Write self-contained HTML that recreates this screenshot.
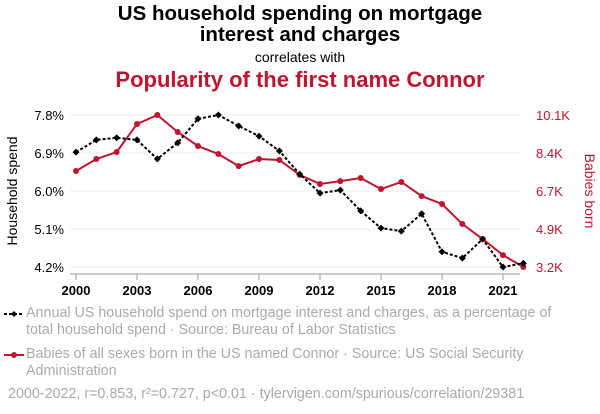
<!DOCTYPE html>
<html><head><meta charset="utf-8"><style>
body{margin:0;background:#fff;font-family:"Liberation Sans",sans-serif;}
#wrap{position:relative;width:600px;height:414px;overflow:hidden;}
.t{position:absolute;left:0;width:600px;text-align:center;}
.leg{position:absolute;left:26px;width:545px;color:#aaa;font-size:14.3px;line-height:17px;}
</style></head><body>
<div id="wrap">
<div class="t" style="top:3px;font-size:20.5px;font-weight:bold;line-height:21px;color:#000">US household spending on mortgage<br>interest and charges</div>
<div class="t" style="top:49px;font-size:14px;color:#000">correlates with</div>
<div class="t" style="top:67px;font-size:22px;font-weight:bold;color:#c0152f">Popularity of the first name Connor</div>
<svg id="chart" width="600" height="414" style="position:absolute;left:0;top:0"></svg>
<div class="leg" style="top:305px">Annual US household spend on mortgage interest and charges, as a percentage of total household spend · Source: Bureau of Labor Statistics</div>
<div class="leg" style="top:346px">Babies of all sexes born in the US named Connor · Source: US Social Security Administration</div>
<div class="leg" style="top:386px;left:8px;width:590px">2000-2022, r=0.853, r²=0.727, p&lt;0.01 · tylervigen.com/spurious/correlation/29381</div>
</div>
<script>
const years=[2000,2001,2002,2003,2004,2005,2006,2007,2008,2009,2010,2011,2012,2013,2014,2015,2016,2017,2018,2019,2020,2021,2022];
const spend=[6.92,7.21,7.26,7.21,6.76,7.14,7.71,7.80,7.54,7.30,6.95,6.40,5.95,6.02,5.53,5.12,5.05,5.46,4.56,4.41,4.86,4.20,4.29];
const babies=[7560,8100,8420,9690,10100,9330,8690,8330,7780,8100,8060,7380,6970,7100,7240,6740,7060,6420,6060,5150,4470,3740,3200];
const xTicks=[2000,2003,2006,2009,2012,2015,2018,2021];
const leftTicks=[4.2,5.1,6.0,6.9,7.8];
const leftLabels=["4.2%","5.1%","6.0%","6.9%","7.8%"];
const rightTicks=[3200,4925,6650,8375,10100];
const rightLabels=["3.2K","4.9K","6.7K","8.4K","10.1K"];
const NS="http://www.w3.org/2000/svg";
const svg=document.getElementById('chart');
const x=v=>76+(v-2000)*(503-76)/21;
const yL=v=>267-(v-4.2)*(152/3.6);
const yR=v=>267-(v-3200)*(152/6900);
function mk(t,a){const e=document.createElementNS(NS,t);for(const k in a)e.setAttribute(k,a[k]);svg.appendChild(e);return e;}
leftTicks.forEach((v,i)=>{
 const g=mk('line',{x1:70,x2:520,y1:yL(v),y2:yL(v),stroke:'#eee','stroke-width':1});
 
 
 const t=mk('text',{x:64,y:yL(v)+5,'text-anchor':'end','font-size':13,fill:'#000'});t.textContent=leftLabels[i];
 
 
});
rightTicks.forEach((v,i)=>{
 const t=mk('text',{x:536,y:yR(v)+5,'font-size':13,fill:'#c0152f'});t.textContent=rightLabels[i];
 
 
});
const ax=mk('line',{x1:70,x2:520,y1:274,y2:274,stroke:'#999'});


xTicks.forEach(v=>{
 const l=mk('line',{x1:x(v),x2:x(v),y1:274,y2:280,stroke:'#999'});
 
 
 const t=mk('text',{x:x(v),y:295,'text-anchor':'middle','font-size':13,'font-weight':'bold',fill:'#000'});t.textContent=v;
 
 
});
const yt=mk('text',{transform:'translate(17,191) rotate(-90)','text-anchor':'middle','font-size':14,fill:'#000'});yt.textContent='Household spend';


const yt2=mk('text',{transform:'translate(585,191) rotate(90)','text-anchor':'middle','font-size':14,fill:'#c0152f'});yt2.textContent='Babies born';


const pr=mk('polyline',{points:years.map((y,i)=>x(y)+','+yR(babies[i])).join(' '),fill:'none',stroke:'#c0152f','stroke-width':2});


years.forEach((y,i)=>{const c=mk('circle',{cx:x(y),cy:yR(babies[i]),r:3,fill:'#c0152f'});
 
 });
const pb=mk('polyline',{points:years.map((y,i)=>x(y)+','+yL(spend[i])).join(' '),fill:'none',stroke:'#000','stroke-width':2,'stroke-dasharray':'3,2'});


years.forEach((y,i)=>{const cx=x(y),cy=yL(spend[i]);const d=mk('polygon',{points:`${cx},${cy-3.5} ${cx+3.5},${cy} ${cx},${cy+3.5} ${cx-3.5},${cy}`,fill:'#000'});
 
 });
const lm1=mk('line',{x1:4,x2:24,y1:314,y2:314,stroke:'#000','stroke-width':2,'stroke-dasharray':'3,2'});


const lm1d=mk('polygon',{points:'14,311 17,314 14,317 11,314',fill:'#000'});


const lm2=mk('line',{x1:4,x2:24,y1:355,y2:355,stroke:'#c0152f','stroke-width':2});


const lm2c=mk('circle',{cx:14,cy:355,r:3,fill:'#c0152f'});


</script>
</body></html>
